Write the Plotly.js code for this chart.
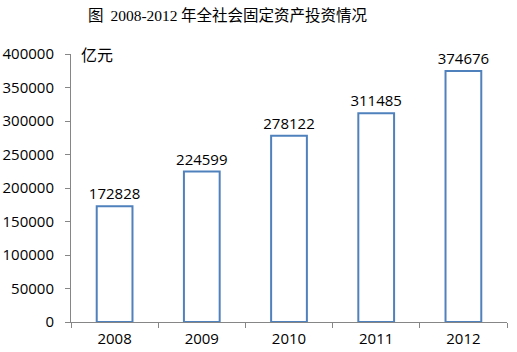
<!DOCTYPE html>
<html><head><meta charset="utf-8">
<script src="https://cdn.plot.ly/plotly-3.0.1.min.js"></script>
<style>body{margin:0;background:#fff}#c{width:517px;height:352px}</style>
</head><body><div id="c"></div>
<script>
const years = ['2008','2009','2010','2011','2012'];
const investment = [172828, 224599, 278122, 311485, 374676];
const yTicks = [0,50000,100000,150000,200000,250000,300000,350000,400000];

const F = 'Open Sans, Liberation Sans, Arial, sans-serif';
const trace = {
  type:'bar', x: years, y: investment, width: 0.41,
  marker:{color:'#ffffff', line:{color:'#4F81BD', width:2}},
  text: investment.map(String), textposition:'outside', cliponaxis:false, constraintext:'none',
  textfont:{family:F, size:15, color:'#000'},
  hoverinfo:'none'
};
const layout = {
  width:517, height:352,
  margin:{l:71, r:10, t:54, b:30},
  paper_bgcolor:'#fff', plot_bgcolor:'#fff',
  showlegend:false,
  title:{text:'图  <span style="font-family:Liberation Serif">2008-2012</span> 年全社会固定资产投资情况',
    font:{family:'Noto Sans CJK SC, sans-serif', size:15.5, color:'#000'},
    x:0.44, xanchor:'center', y:0.955, yanchor:'middle'},
  xaxis:{type:'category', tickson:'boundaries', ticks:'outside', ticklen:5, tickcolor:'#868686',
    showline:true, linecolor:'#868686', linewidth:1, showgrid:false, ticklabelstandoff:3,
    tickfont:{family:F, size:15, color:'#000'}},
  yaxis:{range:[0,400000], tickvals:yTicks, ticktext:yTicks.map(String), ticks:'outside', ticklen:5,
    tickcolor:'#868686', showline:true, linecolor:'#868686', linewidth:1, showgrid:false, zeroline:false,
    ticklabelstandoff:8,
    tickfont:{family:F, size:15, color:'#000'}},
  annotations:[{text:'亿元', xref:'paper', yref:'paper', x:0.018, y:1.0, xanchor:'left', yanchor:'middle',
    showarrow:false, font:{family:'Noto Sans CJK SC, sans-serif', size:16, color:'#000'}}]
};
Plotly.newPlot('c',[trace],layout,{displayModeBar:false,staticPlot:true});
</script></body></html>
